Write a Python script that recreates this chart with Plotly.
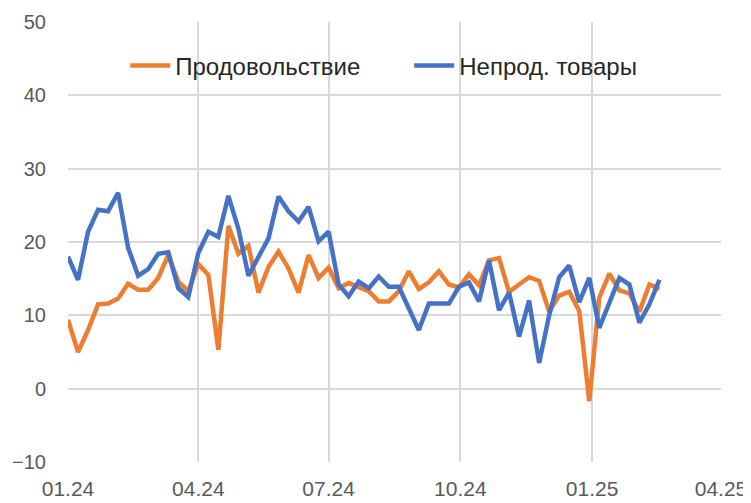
import pandas as pd
import plotly.graph_objects as go

start_date = "2024-01-01"
n_weeks = 60
dates = pd.date_range(start_date, periods=n_weeks, freq="7D")

food = [9.4, 5.0, 8.0, 11.5, 11.6, 12.3, 14.3, 13.5, 13.5, 15.1,
        18.2, 14.6, 13.3, 17.0, 15.5, 5.3, 22.2, 18.4, 19.5, 13.1,
        16.6, 18.7, 16.4, 13.1, 18.2, 15.1, 16.5, 13.7, 14.4, 13.9,
        13.3, 11.9, 11.9, 13.3, 16.0, 13.6, 14.5, 16.0, 14.2, 13.8,
        15.6, 14.1, 17.5, 17.8, 13.2, 14.2, 15.2, 14.7, 10.5, 12.7,
        13.2, 10.6, -1.7, 12.4, 15.7, 13.4, 13.0, 10.5, 14.2, 13.6]

nonfood = [18.0, 14.85, 21.4, 24.4, 24.2, 26.7, 19.2, 15.4, 16.3, 18.4,
           18.6, 13.7, 12.5, 18.5, 21.4, 20.7, 26.3, 21.8, 15.4, 17.8,
           20.5, 26.2, 24.2, 22.8, 24.8, 20.1, 21.4, 14.2, 12.6, 14.6,
           13.7, 15.3, 13.9, 13.9, 11.0, 8.0, 11.6, 11.6, 11.6, 13.9,
           14.5, 11.9, 17.5, 10.7, 13.1, 7.1, 12.0, 3.5, 10.0, 15.2,
           16.8, 11.8, 15.1, 8.3, 11.8, 15.1, 14.2, 9.0, 11.5, 14.85]

tick_dates = ["2024-01-01", "2024-04-01", "2024-07-01", "2024-10-01", "2025-01-01", "2025-04-01"]
tick_labels = ["01.24", "04.24", "07.24", "10.24", "01.25", "04.25"]
y_ticks = [-10, 0, 10, 20, 30, 40, 50]

fig = go.Figure()
fig.add_trace(go.Scatter(x=dates, y=food, mode="lines", name="Продовольствие",
                         line=dict(color="#ED7D31", width=4.5)))
fig.add_trace(go.Scatter(x=dates, y=nonfood, mode="lines", name="Непрод. товары",
                         line=dict(color="#4472C4", width=4.5)))

fig.update_layout(
    width=743, height=495,
    margin=dict(l=60, r=30, t=14, b=41, autoexpand=False),
    paper_bgcolor="white", plot_bgcolor="white",
    font=dict(family="Liberation Sans, Arial, sans-serif", size=20, color="#595959"),
    showlegend=True,
    legend=dict(orientation="h", x=0.0876, y=0.9, xanchor="left", yanchor="middle",
                font=dict(size=24, color="#262626"), bgcolor="rgba(0,0,0,0)",
                entrywidth=229, entrywidthmode="pixels", itemwidth=40),
)
fig.update_xaxes(
    type="date",
    range=[tick_dates[0], tick_dates[-1]],
    tickvals=tick_dates, ticktext=tick_labels,
    showgrid=True, gridcolor="#d9d9d9", gridwidth=1.5,
    showline=False, zeroline=False, ticks="", ticklabelstandoff=12,
    automargin=False, tickfont=dict(size=21),
)
fig.update_yaxes(
    range=[-10, 50], tickvals=y_ticks,
    showgrid=True, gridcolor="#d9d9d9", gridwidth=1.5,
    zeroline=False, showline=False, ticks="", ticklabelstandoff=21,
    automargin=False, tickfont=dict(size=20),
)
fig.write_html("out.html")
